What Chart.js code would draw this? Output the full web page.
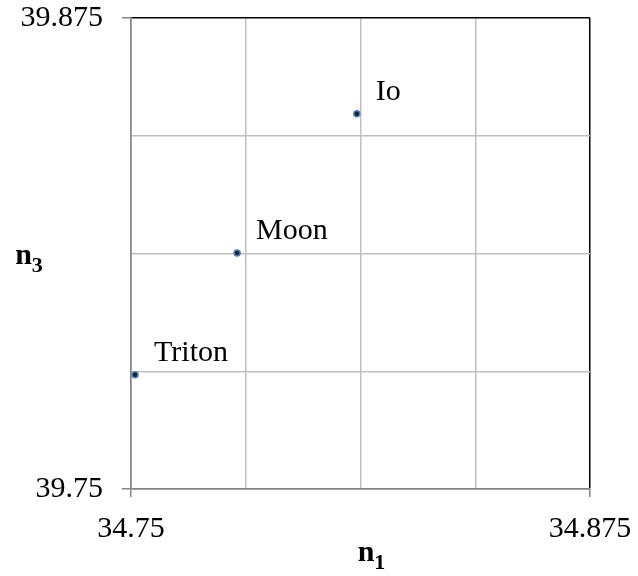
<!DOCTYPE html>
<html>
<head>
<meta charset="utf-8">
<script src="https://cdn.jsdelivr.net/npm/chart.js@4.4.1/dist/chart.umd.min.js"></script>
<style>
  html, body { margin: 0; padding: 0; background: #fff; }
  canvas { display: block; }
</style>
</head>
<body>
<canvas id="chart" width="638" height="576"></canvas>
<script>
// bodies and their (n1, n3) values
const names = ['Triton', 'Moon', 'Io']
const n1 = [34.7511, 34.7789, 34.8115]
const n3 = [39.7803, 39.8126, 39.8496]

// axis ticks (only ends get labels)
const xTicks = [34.75, 34.78125, 34.8125, 34.84375, 34.875]
const yTicks = [39.75, 39.78125, 39.8125, 39.84375, 39.875]

const serif = '"Liberation Serif", "Times New Roman", serif'
const GRID = '#c0c0c0'
const AXIS = '#868686'

const gridColor = (ctx) => {
    if (ctx.index === 0) return AXIS
    if (ctx.index === 4) return '#000'
    return GRID
}
const tickColor = (ctx) => (ctx.index === 0 || ctx.index === 4 ? AXIS : 'rgba(0,0,0,0)')
const endLabel = (v, i, ticks) => (i === 0 || i === ticks.length - 1 ? String(v) : '')

const pointLabels = {
    id: 'pointLabels',
    afterDatasetsDraw(chart) {
        const ctx = chart.ctx
        const meta = chart.getDatasetMeta(0)
        ctx.save()
        ctx.font = '30px ' + serif
        ctx.fillStyle = '#000'
        ctx.textAlign = 'left'
        ctx.textBaseline = 'middle'
        meta.data.forEach((el, i) => {
            ctx.fillText(names[i], el.x + 19, el.y - 22)
        })
        ctx.restore()
    },
}

const axisTitles = {
    id: 'axisTitles',
    afterDraw(chart) {
        const ctx = chart.ctx
        const a = chart.chartArea
        const draw = (main, sub, cx, baseY) => {
            ctx.font = 'bold 30px ' + serif
            const w1 = ctx.measureText(main).width
            ctx.font = 'bold 22px ' + serif
            const w2 = ctx.measureText(sub).width
            const x0 = cx - (w1 + w2) / 2
            ctx.font = 'bold 30px ' + serif
            ctx.fillText(main, x0, baseY)
            ctx.font = 'bold 22px ' + serif
            ctx.fillText(sub, x0 + w1, baseY + 8)
        }
        ctx.save()
        ctx.fillStyle = '#000'
        ctx.textAlign = 'left'
        ctx.textBaseline = 'alphabetic'
        draw('n', '1', (a.left + a.right) / 2 + 11, 561)
        draw('n', '3', 29, (a.top + a.bottom) / 2 + 10)
        ctx.restore()
    },
}

new Chart(document.getElementById('chart').getContext('2d'), {
    type: 'scatter',
    data: {
        datasets: [
            {
                label: 'bodies',
                data: n1.map((x, i) => ({ x: x, y: n3[i] })),
                pointRadius: 3,
                pointBorderWidth: 1.5,
                pointBackgroundColor: '#1a2333',
                pointBorderColor: '#4f81bd',
            },
        ],
    },
    options: {
        responsive: false,
        animation: false,
        layout: { padding: { top: 18, right: 48, left: 0, bottom: 0 } },
        plugins: {
            legend: { display: false },
            tooltip: { enabled: false },
        },
        scales: {
            x: {
                type: 'linear',
                min: 34.75,
                max: 34.875,
                afterBuildTicks: (s) => { s.ticks = xTicks.map((v) => ({ value: v })) },
                afterFit: (s) => {
                    s.height = 87
                    s.paddingLeft = 0
                    s.paddingRight = 0
                },
                ticks: {
                    callback: endLabel,
                    autoSkip: false,
                    maxRotation: 0,
                    padding: 14,
                    color: '#000',
                    font: { family: serif, size: 30 },
                },
                grid: { color: gridColor, tickColor: tickColor, tickLength: 8, lineWidth: 1.5 },
                border: { color: AXIS, width: 1.5 },
            },
            y: {
                type: 'linear',
                min: 39.75,
                max: 39.875,
                afterBuildTicks: (s) => { s.ticks = yTicks.map((v) => ({ value: v })) },
                afterFit: (s) => {
                    s.width = 131
                    s.paddingTop = 0
                    s.paddingBottom = 0
                },
                ticks: {
                    callback: endLabel,
                    autoSkip: false,
                    padding: 19,
                    color: '#000',
                    font: { family: serif, size: 30 },
                },
                grid: { color: gridColor, tickColor: tickColor, tickLength: 9, lineWidth: 1.5 },
                border: { color: AXIS, width: 1.5 },
            },
        },
    },
    plugins: [pointLabels, axisTitles],
})
</script>
</body>
</html>
